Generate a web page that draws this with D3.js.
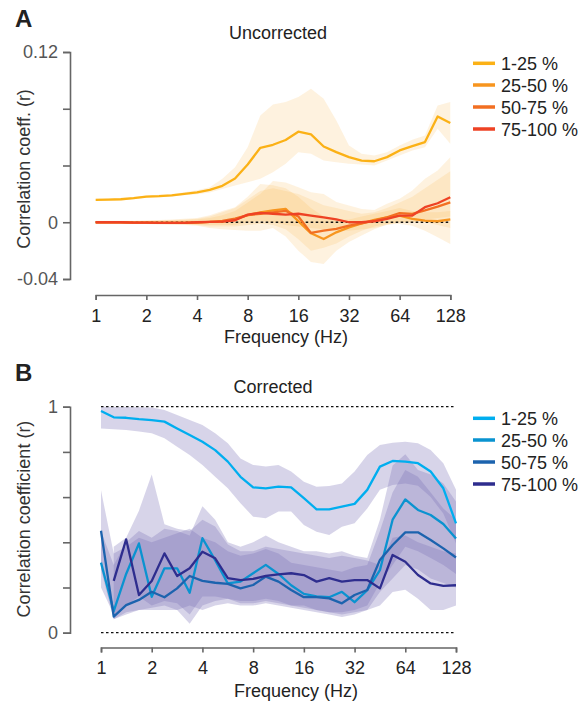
<!DOCTYPE html>
<html><head><meta charset="utf-8">
<script src="https://cdn.jsdelivr.net/npm/d3@7"></script>
<style>body{margin:0;background:#fff}svg{display:block}text{font-family:"Liberation Sans",Arial,sans-serif}</style>
</head><body><svg id="c" width="582" height="702"></svg>
<script>
const freqs = [1,1.19,1.41,1.68,2,2.38,2.83,3.36,4,4.76,5.66,6.73,8,9.51,11.31,13.45,16,19.03,22.63,26.91,32,38.05,45.25,53.82,64,76.11,90.51,107.63,128];
const xTicks = [1,2,4,8,16,32,64,128];
const groups = ["1-25 %","25-50 %","50-75 %","75-100 %"];

// Panel A (uncorrected)
const a1 = [0.0158,0.016,0.0162,0.017,0.018,0.0184,0.019,0.020,0.021,0.0228,0.0257,0.0308,0.0407,0.0525,0.0546,0.058,0.0638,0.0619,0.0534,0.0494,0.0459,0.0435,0.043,0.0459,0.0506,0.0536,0.0565,0.0746,0.0699];
const a1Hi = [0.0166,0.0168,0.017,0.0178,0.0188,0.0193,0.020,0.0212,0.0225,0.0247,0.0306,0.0388,0.0529,0.0753,0.083,0.0847,0.0882,0.0941,0.087,0.0717,0.0541,0.0482,0.047,0.0494,0.0541,0.0581,0.0611,0.0823,0.0847];
const a1Lo = [0.015,0.0152,0.0154,0.0162,0.0172,0.0176,0.0181,0.019,0.0198,0.021,0.0235,0.0259,0.0282,0.0306,0.0353,0.0412,0.0494,0.0482,0.0435,0.0423,0.0412,0.0407,0.04,0.0435,0.047,0.0506,0.0529,0.0659,0.0553];
const a2 = [0,0,0,-0.0003,-0.0003,-0.0005,-0.0005,-0.0005,-0.0002,0.0002,0.0005,0.002,0.005,0.007,0.0083,0.0094,0.0008,-0.0078,-0.0118,-0.0071,-0.0036,-0.0008,0.0016,0.0035,0.0047,0.0024,0.0012,0.0007,0.002];
const a2Hi = [0.001,0.001,0.001,0.001,0.0012,0.0015,0.002,0.0025,0.003,0.005,0.008,0.0106,0.018,0.027,0.026,0.024,0.018,0.01,0.004,0.002,0.002,0.004,0.006,0.008,0.01,0.008,0.007,0.007,0.008];
const a2Lo = [-0.001,-0.001,-0.001,-0.0013,-0.0013,-0.0016,-0.0018,-0.002,-0.0025,-0.004,-0.005,-0.0055,-0.006,-0.006,-0.004,-0.01,-0.02,-0.028,-0.0294,-0.02,-0.014,-0.0094,-0.005,-0.0015,-0.0012,-0.0024,-0.006,-0.0106,-0.0153];
const a3 = [0,0,0,-0.0002,-0.0003,-0.0004,-0.0004,-0.0004,-0.0001,0.0003,0.001,0.0025,0.005,0.006,0.007,0.008,0.004,-0.0075,-0.0059,-0.0047,-0.0024,-0.0008,0.0012,0.0035,0.0065,0.0059,0.0083,0.011,0.014];
const a3Hi = [0.0008,0.0008,0.0008,0.0008,0.001,0.0012,0.0015,0.002,0.0025,0.004,0.007,0.01,0.016,0.022,0.024,0.022,0.02,0.016,0.012,0.01,0.008,0.006,0.007,0.01,0.014,0.018,0.024,0.03,0.036];
const a3Lo = [-0.0008,-0.0008,-0.0008,-0.001,-0.001,-0.0012,-0.0014,-0.0015,-0.002,-0.003,-0.003,-0.003,-0.002,-0.001,-0.002,-0.005,-0.012,-0.02,-0.018,-0.015,-0.01,-0.006,-0.003,-0.001,0,0,0,-0.002,-0.004];
const a4 = [0,0,0,-0.0002,-0.0003,-0.0004,-0.0005,-0.0004,0,0.0003,0.0005,0.0014,0.0054,0.0066,0.006,0.0054,0.006,0.0047,0.0035,0.002,0,0,0.0007,0.0024,0.0047,0.0047,0.0106,0.0134,0.0176];
const a4Hi = [0.0006,0.0006,0.0006,0.0006,0.0008,0.001,0.0012,0.0015,0.002,0.003,0.005,0.008,0.014,0.02,0.029,0.028,0.0247,0.0211,0.02,0.0142,0.0118,0.0094,0.0087,0.013,0.0165,0.0224,0.0306,0.0365,0.0459];
const a4Lo = [-0.0006,-0.0006,-0.0006,-0.0008,-0.0009,-0.001,-0.0012,-0.0012,-0.0015,-0.002,-0.002,-0.002,0,0.001,0,-0.002,-0.003,-0.004,-0.005,-0.006,-0.006,-0.005,-0.004,-0.002,0,0,0.002,0.003,0.004];

// Panel B (corrected)
const b1 = [0.981,0.953,0.951,0.945,0.941,0.934,0.904,0.875,0.845,0.808,0.757,0.69,0.643,0.639,0.646,0.643,0.595,0.546,0.546,0.558,0.57,0.632,0.735,0.76,0.757,0.75,0.713,0.639,0.484];
const b1Hi = [1.0,0.999,0.999,0.998,0.996,0.985,0.963,0.941,0.919,0.882,0.838,0.771,0.742,0.735,0.742,0.713,0.668,0.646,0.649,0.66,0.713,0.786,0.83,0.841,0.845,0.838,0.808,0.75,0.632];
const b1Lo = [0.904,0.9,0.897,0.89,0.882,0.86,0.823,0.786,0.742,0.69,0.639,0.573,0.513,0.506,0.536,0.536,0.477,0.447,0.432,0.469,0.484,0.55,0.632,0.653,0.66,0.65,0.6,0.527,0.395];
const b2 = [0.31,0.095,0.26,0.395,0.159,0.285,0.285,0.177,0.418,0.321,0.218,0.226,0.263,0.3,0.26,0.21,0.172,0.161,0.157,0.181,0.135,0.188,0.277,0.5,0.59,0.543,0.521,0.481,0.417];
const b2Hi = [0.45,0.30,0.40,0.45,0.42,0.46,0.45,0.43,0.56,0.50,0.40,0.38,0.40,0.43,0.40,0.38,0.36,0.36,0.35,0.36,0.34,0.33,0.50,0.74,0.79,0.72,0.70,0.66,0.58];
const b2Lo = [0.20,0.08,0.12,0.16,0.12,0.14,0.13,0.08,0.16,0.16,0.15,0.14,0.14,0.15,0.14,0.12,0.11,0.10,0.09,0.09,0.10,0.12,0.22,0.30,0.38,0.36,0.33,0.30,0.26];
const b3 = [0.451,0.071,0.122,0.145,0.181,0.157,0.196,0.251,0.229,0.221,0.216,0.196,0.211,0.248,0.226,0.189,0.157,0.157,0.152,0.13,0.167,0.189,0.322,0.388,0.444,0.444,0.41,0.373,0.333];
const b3Hi = [0.63,0.35,0.38,0.42,0.40,0.42,0.44,0.46,0.42,0.40,0.36,0.34,0.35,0.37,0.35,0.31,0.30,0.29,0.28,0.27,0.29,0.30,0.45,0.62,0.72,0.69,0.62,0.55,0.50];
const b3Lo = [0.28,0.06,0.08,0.10,0.10,0.10,0.10,0.12,0.10,0.12,0.13,0.12,0.12,0.13,0.12,0.11,0.10,0.09,0.08,0.07,0.08,0.10,0.18,0.24,0.30,0.28,0.24,0.22,0.20];
const b4 = [null,0.229,0.413,0.167,0.229,0.351,0.251,0.285,0.358,0.329,0.241,0.233,0.238,0.251,0.258,0.263,0.255,0.226,0.241,0.226,0.233,0.233,0.196,0.344,0.314,0.255,0.218,0.207,0.21];
const b4Hi = [null,0.38,0.42,0.54,0.70,0.48,0.46,0.45,0.50,0.47,0.39,0.36,0.36,0.38,0.37,0.36,0.35,0.34,0.33,0.34,0.33,0.32,0.30,0.42,0.43,0.40,0.38,0.36,0.35];
const b4Lo = [null,0.06,0.09,0.10,0.11,0.12,0.10,0.04,0.12,0.14,0.15,0.13,0.13,0.14,0.13,0.12,0.12,0.10,0.09,0.08,0.09,0.10,0.12,0.18,0.19,0.15,0.10,0.10,0.12];

const colorsA = ["#FBB116","#F7951E","#F26F22","#EE4224"];
const colorsB = ["#00AEEF","#0A93D0","#1C63AE","#2E2D8E"];

const svg = d3.select("#c");

function panel(o){
  const x = d3.scaleLog().base(2).domain([1,128]).range(o.xr);
  const y = d3.scaleLinear().domain(o.yd).range(o.yr);
  const g = svg.append("g");
  // bands
  o.bands.forEach(b=>{
    const area = d3.area().defined((d,i)=>b.lo[i]!=null)
      .x((d,i)=>x(freqs[i])).y0((d,i)=>y(b.lo[i])).y1((d,i)=>y(b.hi[i]));
    g.append("path").attr("d",area(freqs)).attr("fill",o.bandColor).attr("fill-opacity",o.bandOpacity);
  });
  // dotted reference lines
  o.refs.forEach(r=>{
    g.append("line").attr("x1",x(1)).attr("x2",x(128)).attr("y1",y(r)).attr("y2",y(r))
      .attr("stroke","#111").attr("stroke-width",1.3).attr("stroke-dasharray","2.5,2.5");
  });
  // lines
  o.lines.forEach(l=>{
    const line = d3.line().defined((d,i)=>l.v[i]!=null).x((d,i)=>x(freqs[i])).y((d,i)=>y(l.v[i]));
    g.append("path").attr("d",line(freqs)).attr("fill","none").attr("stroke",l.c)
      .attr("stroke-width",2.3).attr("stroke-linejoin","round");
  });
  // axes
  const ax = g.append("g").attr("transform",`translate(0,${o.xAxisY})`)
    .call(d3.axisBottom(x).tickValues(xTicks).tickFormat(d3.format("d")).tickSizeOuter(0).tickSize(5).tickPadding(9));
  const ay = g.append("g").attr("transform",`translate(${o.yAxisX},0)`)
    .call(d3.axisLeft(y).tickValues(o.yTicks).tickFormat((d,i)=>o.yLabels[i]).tickSizeOuter(0).tickSize(7).tickPadding(5));
  [ax,ay].forEach(a=>{
    a.select(".domain").attr("stroke","#666").attr("stroke-width",1.6);
    a.selectAll(".tick line").attr("stroke","#666").attr("stroke-width",1.6);
    a.selectAll(".tick text").attr("font-size",18).attr("font-family","Liberation Sans, Arial, sans-serif");
  });
  ax.selectAll(".tick text").attr("fill","#222");
  ay.selectAll(".tick text").attr("fill","#555");
  // texts
  g.append("text").attr("x",o.titleX).attr("y",o.titleY).attr("text-anchor","middle").attr("font-size",18).attr("fill","#222").text(o.title);
  g.append("text").attr("x",o.xlabX).attr("y",o.xlabY).attr("text-anchor","middle").attr("font-size",18).attr("fill","#222").text("Frequency (Hz)");
  g.append("text").attr("transform",`translate(30,${o.ylabY}) rotate(-90)`).attr("text-anchor","middle").attr("font-size",18).attr("fill","#333").text(o.ylab);
  g.append("text").attr("x",15).attr("y",o.letterY).attr("font-size",24).attr("font-weight","bold").attr("fill","#222").text(o.letter);
  // legend
  groups.forEach((s,i)=>{
    const yy = o.legY[i];
    g.append("line").attr("x1",473).attr("x2",495).attr("y1",yy).attr("y2",yy).attr("stroke",o.lines[i].c).attr("stroke-width",3.5);
    g.append("text").attr("x",501).attr("y",yy+6.5).attr("font-size",18).attr("fill","#222").text(s);
  });
}

panel({
  xr:[95.7,450.3], yd:[-0.04,0.12], yr:[279,52], xAxisY:295, yAxisX:70,
  yTicks:[-0.04,0,0.04,0.08,0.12], yLabels:["-0.04","0","","","0.12"],
  bandColor:"#FBB040", bandOpacity:0.17,
  bands:[{lo:a1Lo,hi:a1Hi},{lo:a2Lo,hi:a2Hi},{lo:a3Lo,hi:a3Hi},{lo:a4Lo,hi:a4Hi}],
  refs:[0],
  lines:[{v:a1,c:colorsA[0]},{v:a2,c:colorsA[1]},{v:a3,c:colorsA[2]},{v:a4,c:colorsA[3]}],
  title:"Uncorrected", titleX:278, titleY:39, xlabX:286, xlabY:343,
  ylab:"Correlation coeff. (r)", ylabY:169, letter:"A", letterY:27,
  legY:[63.3,85,107,129]
});

panel({
  xr:[101,456], yd:[0,1], yr:[632.7,406.7], xAxisY:647.5, yAxisX:70,
  yTicks:[0,0.2,0.4,0.6,0.8,1], yLabels:["0","","","","","1"],
  bandColor:"#7B6FB5", bandOpacity:0.3,
  bands:[{lo:b1Lo,hi:b1Hi},{lo:b2Lo,hi:b2Hi},{lo:b3Lo,hi:b3Hi},{lo:b4Lo,hi:b4Hi}],
  refs:[0,1],
  lines:[{v:b1,c:colorsB[0]},{v:b2,c:colorsB[1]},{v:b3,c:colorsB[2]},{v:b4,c:colorsB[3]}].slice(),
  title:"Corrected", titleX:273, titleY:393, xlabX:296, xlabY:697,
  ylab:"Correlation coefficient (r)", ylabY:519, letter:"B", letterY:381,
  legY:[418.3,440,462,484]
});
</script></body></html>
